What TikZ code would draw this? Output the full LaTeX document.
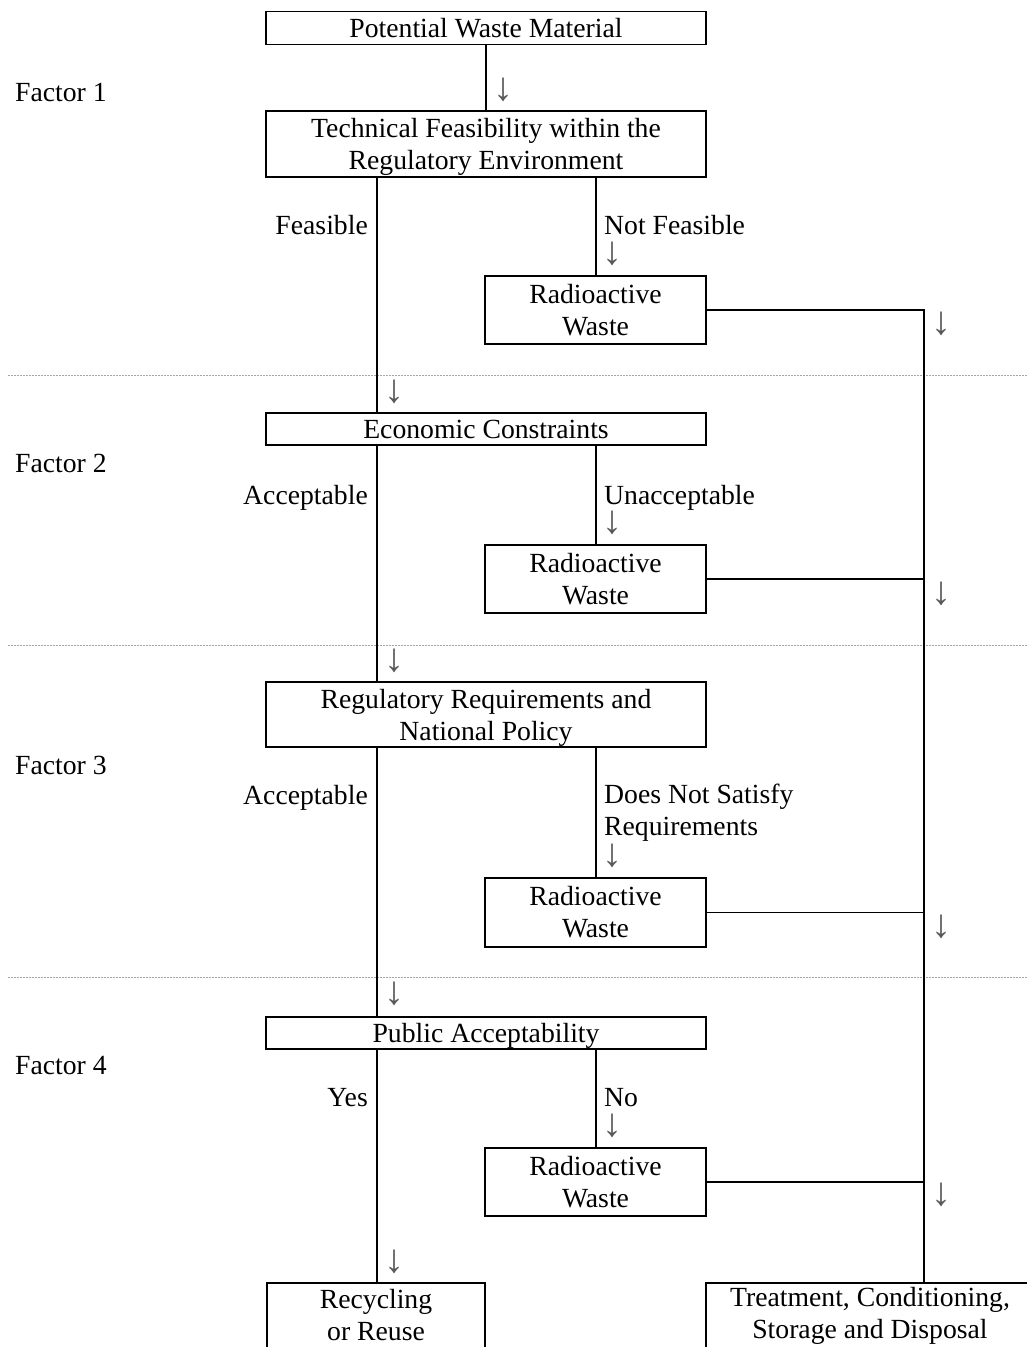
\documentclass[tikz,border=0pt]{standalone}
\usepackage{fontspec}
\setmainfont{Liberation Serif}
\begin{document}
\begin{tikzpicture}[x=1pt,y=-1pt,
  every node/.style={font=\fontsize{27.7}{32}\selectfont, inner sep=0pt},
  widebox/.style={draw, line width=1.6pt, align=center, minimum width=440pt, text depth=0pt},
  wastebox/.style={draw, line width=1.6pt, align=center, minimum width=221pt, minimum height=68pt},
  endbox/.style={draw, line width=1.6pt, align=center, minimum height=65pt},
  link/.style={line width=1.6pt},
  sep/.style={black!35, line width=0.8pt, dash pattern=on 2pt off 1pt},
  down/.style={text=black!65, font=\fontsize{40}{40}\selectfont},
  yeslbl/.style={anchor=mid east},
  nolbl/.style={anchor=mid west, align=left},
  factor/.style={anchor=mid west}]
\clip (0,0) rectangle (1027,1347);

% column positions of the flow lines
\coordinate (L) at (377,0);
\coordinate (R) at (596,0);
\coordinate (T) at (924,0);

% section separators
\draw[sep] (8,375) -- (1027,375);
\draw[sep] (8,645) -- (1027,645);
\draw[sep] (8,977) -- (1027,977);

% main decision boxes
\node[widebox, minimum height=33pt] (pot) at (486,28) {Potential Waste Material};
\node[widebox, minimum height=66pt] (tech) at (486,144) {Technical Feasibility within the\\Regulatory Environment};
\node[widebox, minimum height=32pt] (econ) at (486,429) {Economic Constraints};
\node[widebox, minimum height=65pt] (reg) at (486,714.5) {Regulatory Requirements and\\National Policy};
\node[widebox, minimum height=32pt] (pub) at (486,1033) {Public Acceptability};

% radioactive waste outcomes
\node[wastebox] (rad1) at (595.5,310) {Radioactive\\Waste};
\node[wastebox] (rad2) at (595.5,579) {Radioactive\\Waste};
\node[wastebox, minimum height=69pt] (rad3) at (595.5,912.5) {Radioactive\\Waste};
\node[wastebox] (rad4) at (595.5,1182) {Radioactive\\Waste};

% final destinations
\node[endbox, minimum width=218pt] (recyc) at (376,1315.5) {Recycling\\or Reuse};
\node[endbox, minimum width=328pt] (treat) at (870,1315.5) {Treatment, Conditioning,\\Storage and Disposal};

% connectors
\draw[link] (pot.south) -- (tech.north);
\draw[link] (tech.south -| L) -- (econ.north -| L);
\draw[link] (econ.south -| L) -- (reg.north -| L);
\draw[link] (reg.south -| L) -- (pub.north -| L);
\draw[link] (pub.south -| L) -- (recyc.north -| L);
\draw[link] (tech.south -| R) -- (rad1.north -| R);
\draw[link] (econ.south -| R) -- (rad2.north -| R);
\draw[link] (reg.south -| R) -- (rad3.north -| R);
\draw[link] (pub.south -| R) -- (rad4.north -| R);
\draw[link] (rad1.east) -| (treat.north -| T);
\draw[link] (rad2.east) -- (rad2.east -| T);
\draw[link] (rad3.east) -- (rad3.east -| T);
\draw[link] (rad4.east) -- (rad4.east -| T);

% branch labels
\node[yeslbl] (f1yes) at (368,232) {Feasible};
\node[nolbl] (f1no) at (604,232) {Not Feasible};
\node[yeslbl] (f2yes) at (368,502) {Acceptable};
\node[nolbl] (f2no) at (604,502) {Unacceptable};
\node[yeslbl] (f3yes) at (368,802) {Acceptable};
\node[nolbl, anchor=west] (f3no) at (604,813) {Does Not Satisfy\\Requirements};
\node[yeslbl] (f4yes) at (368,1104) {Yes};
\node[nolbl] (f4no) at (604,1104) {No};

% factor labels
\node[factor] (fac1) at (15,99) {Factor 1};
\node[factor] (fac2) at (15,470) {Factor 2};
\node[factor] (fac3) at (15,772) {Factor 3};
\node[factor] (fac4) at (15,1072) {Factor 4};

% direction marks
\node[down] (d0) at (503,90) {↓};
\node[down] (d1) at (612,254) {↓};
\node[down] (d2) at (612,523) {↓};
\node[down] (d3) at (612,856) {↓};
\node[down] (d4) at (612,1126) {↓};
\node[down] (e1) at (394,392) {↓};
\node[down] (e2) at (394,661) {↓};
\node[down] (e3) at (394,994) {↓};
\node[down] (e4) at (394,1262) {↓};
\node[down] (t1) at (941,324) {↓};
\node[down] (t2) at (941,594) {↓};
\node[down] (t3) at (941,927) {↓};
\node[down] (t4) at (941,1195) {↓};
\end{tikzpicture}
\end{document}
